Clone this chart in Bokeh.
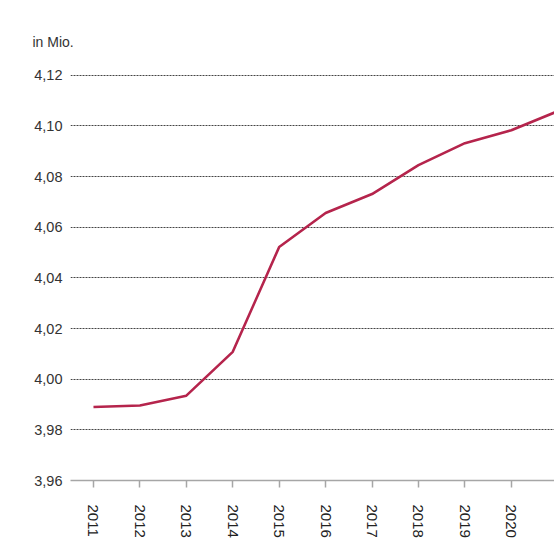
from bokeh.plotting import figure
from bokeh.models import FixedTicker, Range1d
from bokeh.embed import file_html
from bokeh.resources import INLINE

years = [2011, 2012, 2013, 2014, 2015, 2016, 2017, 2018, 2019, 2020, 2021]
values = [3.989, 3.9896, 3.9935, 4.0108, 4.0522, 4.0656, 4.0731, 4.0845, 4.0932, 4.0983, 4.1058]
y_ticks = [3.96, 3.98, 4.00, 4.02, 4.04, 4.06, 4.08, 4.10, 4.12]
y_tick_labels = ["3,96", "3,98", "4,00", "4,02", "4,04", "4,06", "4,08", "4,10", "4,12"]
x_ticks = years[:-1]
x_tick_labels = [str(y) for y in x_ticks]
unit_label = "in Mio."

FONT = "Liberation Sans"
TXT = "#333333"

p = figure(width=554, height=542, output_backend="svg", toolbar_location=None,
           x_range=Range1d(2010.505, 2020.93), y_range=Range1d(3.96, 4.1203),
           min_border_left=70, min_border_right=0, min_border_bottom=62, min_border_top=74)
p.outline_line_color = None
p.background_fill_color = "white"
p.border_fill_color = "white"

p.title.text = unit_label
p.title.align = "left"
p.title.vertical_align = "top"
p.title.offset = -38
p.title.text_font = FONT
p.title.text_font_size = "14px"
p.title.text_font_style = "normal"
p.title.text_color = TXT
p.title.standoff = 46

p.line(years, values, line_color="#b5244c", line_width=2.6)

# y axis
p.yaxis.ticker = FixedTicker(ticks=y_ticks)
p.yaxis.major_label_overrides = {t: l for t, l in zip(y_ticks, y_tick_labels)}
p.yaxis.axis_line_color = None
p.yaxis.major_tick_line_color = None
p.yaxis.minor_tick_line_color = None
p.yaxis.major_tick_out = 0
p.yaxis.major_label_standoff = 8
p.yaxis.major_label_text_font = FONT
p.yaxis.major_label_text_font_size = "14.5px"
p.yaxis.major_label_text_color = TXT

# x axis
p.xaxis.ticker = FixedTicker(ticks=x_ticks)
p.xaxis.major_label_overrides = {t: l for t, l in zip(x_ticks, x_tick_labels)}
p.xaxis.major_label_orientation = "vertical"
p.xaxis.axis_line_color = "#a6a6a6"
p.xaxis.axis_line_width = 1.5
p.xaxis.major_tick_line_color = "#a6a6a6"
p.xaxis.major_tick_line_width = 1.5
p.xaxis.major_tick_in = 0
p.xaxis.major_tick_out = 7
p.xaxis.minor_tick_line_color = None
p.xaxis.major_label_standoff = 17
p.xaxis.major_label_text_font = FONT
p.xaxis.major_label_text_font_size = "15px"
p.xaxis.major_label_text_color = "#222222"

p.xgrid.grid_line_color = None
p.ygrid.ticker = FixedTicker(ticks=y_ticks[1:])
p.ygrid.grid_line_color = "#444444"
p.ygrid.grid_line_dash = "2 1"
p.ygrid.grid_line_width = 1

open("out.html", "w").write(file_html(p, INLINE))
